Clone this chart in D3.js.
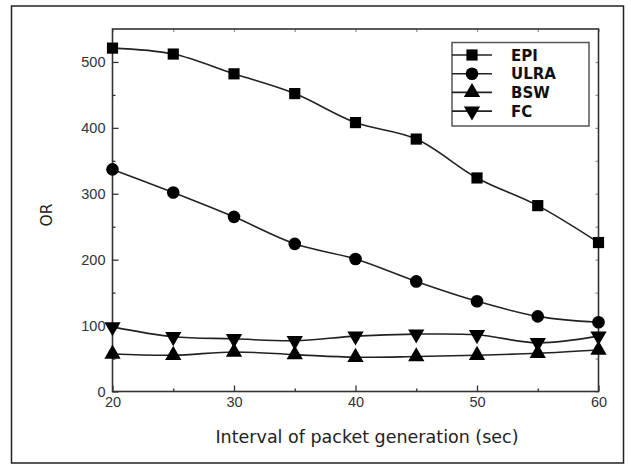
<!DOCTYPE html>
<html>
<head>
<meta charset="utf-8">
<script src="https://cdn.jsdelivr.net/npm/d3@7"></script>
<style>
  body { margin: 0; background: #fff; }
  svg { display: block; }
</style>
</head>
<body>
<div id="chart"></div>
<script>
// data
const intervals = [20, 25, 30, 35, 40, 45, 50, 55, 60];
const epi  = [521, 512, 482, 452, 408, 383, 324, 282, 226];
const ulra = [337, 302, 265, 224, 201, 167, 137, 114, 105];
const bsw  = [57, 55, 60, 56, 52, 53, 55, 58, 63];
const fc   = [98, 83, 80, 77, 84, 87, 86, 74, 84];
const seriesNames = ["EPI", "ULRA", "BSW", "FC"];
const xTicks = [20, 30, 40, 50, 60];
const yTicks = [0, 100, 200, 300, 400, 500];

const W = 631, H = 466;
const margin = {top: 29, right: 32, bottom: 74, left: 112.5};
const width = 598.5 - margin.left, height = 391.5 - margin.top;

const svg = d3.select("#chart").append("svg")
  .attr("width", W).attr("height", H);

// outer frame
svg.append("rect")
  .attr("x", 11.5).attr("y", 6).attr("width", 612).attr("height", 457)
  .attr("fill", "none").attr("stroke", "#222").attr("stroke-width", 1.5);

const g = svg.append("g")
  .attr("transform", "translate(" + margin.left + "," + margin.top + ")");

const x = d3.scaleLinear().domain([20, 60]).range([0, width]);
const y = d3.scaleLinear().domain([0, 550]).range([height, 0]);

// minor ticks (inside)
const minorX = d3.range(25, 60, 10);
const minorY = d3.range(50, 550, 100);

function tickStyle(sel) {
  sel.select(".domain").remove();
  sel.selectAll("line").attr("stroke", "#333").attr("stroke-width", 1.3);
  sel.selectAll("text").attr("fill", "#333")
    .style("font-family", "Arial, 'Liberation Sans', sans-serif").style("font-size", "14.5px");
}

g.append("g").attr("transform", "translate(0," + height + ")")
  .call(d3.axisBottom(x).tickValues(xTicks).tickSizeInner(-6).tickSizeOuter(0).tickPadding(5))
  .call(tickStyle);
g.append("g").attr("transform", "translate(0," + height + ")")
  .call(d3.axisBottom(x).tickValues(minorX).tickSizeInner(-3).tickSizeOuter(0).tickFormat(""))
  .call(tickStyle);
g.append("g")
  .call(d3.axisLeft(y).tickValues(yTicks).tickSizeInner(-6).tickSizeOuter(0).tickPadding(7))
  .call(tickStyle);
g.append("g")
  .call(d3.axisLeft(y).tickValues(minorY).tickSizeInner(-3).tickSizeOuter(0).tickFormat(""))
  .call(tickStyle);
// top / right ticks
g.append("g")
  .call(d3.axisTop(x).tickValues(xTicks.concat(minorX)).tickSizeInner(-3).tickSizeOuter(0).tickFormat(""))
  .call(tickStyle).selectAll("line").attr("stroke", "#999");
g.append("g").attr("transform", "translate(" + width + ",0)")
  .call(d3.axisRight(y).tickValues(yTicks.concat(minorY)).tickSizeInner(-3).tickSizeOuter(0).tickFormat(""))
  .call(tickStyle).selectAll("line").attr("stroke", "#999");

// plot frame
g.append("rect").attr("width", width).attr("height", height)
  .attr("fill", "none").attr("stroke", "#333").attr("stroke-width", 1.6);

// axis titles
svg.append("text")
  .attr("x", 367).attr("y", 443).attr("text-anchor", "middle")
  .style("font-family", "'DejaVu Sans', Verdana, sans-serif").style("font-size", "17.5px")
  .attr("fill", "#222").text("Interval of packet generation (sec)");
svg.append("text")
  .attr("transform", "translate(52,215) rotate(-90)").attr("text-anchor", "middle")
  .style("font-family", "'DejaVu Sans', Verdana, sans-serif").style("font-size", "15.5px")
  .attr("fill", "#222").text("OR");

const symbols = [d3.symbolSquare, d3.symbolCircle, d3.symbolTriangle, d3.symbolTriangle];
const symSizes = [125, 125, 115, 115];
const rotations = [0, 0, 0, 180];
const allSeries = [epi, ulra, bsw, fc];

const line = d3.line()
  .x((d, i) => x(intervals[i]))
  .y(d => y(d))
  .curve(d3.curveCatmullRom.alpha(0.5));

allSeries.forEach((vals, k) => {
  g.append("path").datum(vals)
    .attr("d", line).attr("fill", "none")
    .attr("stroke", "#222").attr("stroke-width", 1.6);
  g.selectAll(".m" + k).data(vals).enter().append("path")
    .attr("class", "m" + k)
    .attr("transform", (d, i) => "translate(" + x(intervals[i]) + "," + y(d) + ") rotate(" + rotations[k] + ")")
    .attr("d", d3.symbol().type(symbols[k]).size(symSizes[k]))
    .attr("fill", "#000");
});

// legend
const leg = svg.append("g");
leg.append("rect")
  .attr("x", 452).attr("y", 42.5).attr("width", 137).attr("height", 83.5)
  .attr("fill", "#fff").attr("stroke", "#555").attr("stroke-width", 1.5);
seriesNames.forEach((name, k) => {
  const ly = 55 + k * 18.7;
  leg.append("line").attr("x1", 452).attr("x2", 492).attr("y1", ly).attr("y2", ly)
    .attr("stroke", "#222").attr("stroke-width", 1.6);
  leg.append("path")
    .attr("transform", "translate(472," + ly + ") rotate(" + rotations[k] + ")")
    .attr("d", d3.symbol().type(symbols[k]).size(symSizes[k]))
    .attr("fill", "#000");
  leg.append("text").attr("x", 511).attr("y", ly + 5.5)
    .style("font-family", "'DejaVu Sans', Verdana, sans-serif").style("font-weight", "bold")
    .style("font-size", "15px").attr("fill", "#111").text(name);
});
</script>
</body>
</html>
